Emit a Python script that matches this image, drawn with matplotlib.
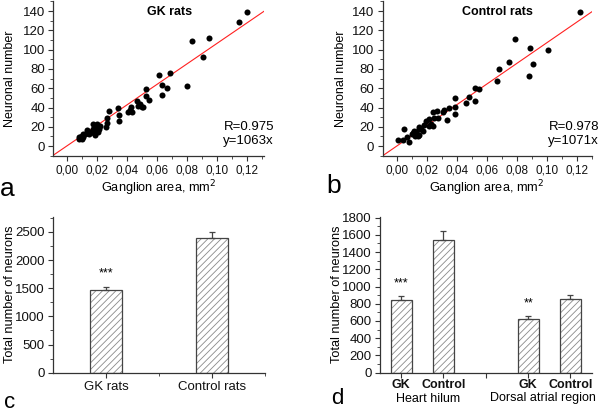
import matplotlib
matplotlib.use("Agg")
import matplotlib.pyplot as plt
from matplotlib.ticker import MultipleLocator, FuncFormatter, FixedLocator
import numpy as np

plt.rcParams['font.family'] = ['Liberation Sans', 'DejaVu Sans']
plt.rcParams['hatch.linewidth'] = 0.6

# ---- Data ----
gk_area = [0.120, 0.1147, 0.0951, 0.0838, 0.0909, 0.080, 0.0689, 0.0618, 0.0638, 0.0667,
           0.0638, 0.0527, 0.0527, 0.0547, 0.0467, 0.0489, 0.050, 0.0511, 0.0478, 0.0427,
           0.0422, 0.0438, 0.0407, 0.0344, 0.0347, 0.0347, 0.0284, 0.0271, 0.0267, 0.0262,
           0.020, 0.020, 0.0207, 0.0211, 0.0191, 0.0178, 0.0173, 0.016, 0.0151, 0.0133,
           0.0122, 0.0111, 0.0138, 0.0184, 0.0193, 0.0218, 0.0222, 0.010, 0.0089, 0.0111,
           0.010, 0.0084, 0.0082]
gk_neurons = [139, 129, 112, 109, 92, 62, 76, 74, 63, 60,
              53, 59, 52, 48, 47, 44, 41, 41, 42, 41,
              37, 35, 35, 39, 32, 26, 36, 29, 24, 20,
              23, 20, 17, 15, 11, 23, 18, 15, 13, 14,
              13, 12, 17, 14, 16, 18, 21, 10, 9, 9,
              7, 7, 9]
ctrl_area = [0.122, 0.0791, 0.0891, 0.1009, 0.0911, 0.0751, 0.0881, 0.0680, 0.0671, 0.0546,
             0.0520, 0.0520, 0.0482, 0.0462, 0.0390, 0.0390, 0.0390, 0.0350, 0.0332, 0.0317,
             0.0306, 0.0268, 0.0239, 0.0272, 0.0250, 0.0212, 0.0212, 0.0239, 0.0228, 0.0194,
             0.0183, 0.0161, 0.0146, 0.0150, 0.0128, 0.0117, 0.0106, 0.0099, 0.0124, 0.0139,
             0.0150, 0.0172, 0.0050, 0.0071, 0.0039, 0.0006, 0.0079]
ctrl_neurons = [139, 111, 102, 100, 85, 87, 73, 80, 68, 59,
                60, 47, 51, 45, 50, 41, 33, 40, 27, 37,
                35, 36, 35, 29, 29, 28, 21, 21, 23, 26,
                22, 18, 20, 18, 15, 16, 14, 12, 10, 10,
                11, 16, 18, 9, 6, 6, 4]
gk_slope = 1063
ctrl_slope = 1071
gk_r = "R=0.975"
ctrl_r = "R=0.978"

total_labels = ["GK rats", "Control rats"]
total_means = [1465, 2395]
total_errs = [60, 105]

region_labels = ["GK", "Control", "GK", "Control"]
region_groups = ["Heart hilum", "Dorsal atrial region"]
region_means = [840, 1545, 628, 850]
region_errs = [50, 102, 32, 57]

BLACK = "#111111"
SPINE = "#333333"
FS = 9.5

fig = plt.figure(figsize=(6.0, 4.13), dpi=100)

comma_fmt = FuncFormatter(lambda v, p: f"{v:.2f}".replace('.', ','))

def style_axes(ax):
    for s in ('top', 'right'):
        ax.spines[s].set_visible(False)
    for s in ('left', 'bottom'):
        ax.spines[s].set_color(SPINE)
        ax.spines[s].set_linewidth(0.9)
    ax.tick_params(which='both', direction='out', colors=SPINE, labelcolor=BLACK,
                   labelsize=FS)
    ax.tick_params(which='major', length=3.5, width=0.8, pad=2.5)
    ax.tick_params(which='minor', length=2, width=0.6)

def scatter_panel(pos, xs, ys, slope, rtxt, title, letter, xlim, rtext_x, letter_xy, ylx):
    ax = fig.add_axes(pos)
    style_axes(ax)
    ax.scatter(xs, ys, s=19, color='black', zorder=3, linewidths=0)
    xl = np.array(xlim)
    ax.plot(xl, slope * xl, color='#ff2020', lw=0.8, zorder=2)
    ax.set_xlim(*xlim)
    ax.set_ylim(-10, 150.5)
    ax.xaxis.set_major_locator(FixedLocator([0, 0.02, 0.04, 0.06, 0.08, 0.10, 0.12]))
    ax.xaxis.set_minor_locator(FixedLocator([0.01, 0.03, 0.05, 0.07, 0.09, 0.11, 0.13]))
    ax.xaxis.set_major_formatter(comma_fmt)
    ax.tick_params(axis='x', labelsize=8.5)
    ax.yaxis.set_major_locator(FixedLocator(list(range(0, 141, 20))))
    ax.yaxis.set_minor_locator(FixedLocator(list(range(-10, 151, 10))))
    ax.set_xlabel("Ganglion area, mm$^2$", fontsize=9.2, labelpad=2)
    ax.set_ylabel("Neuronal number", fontsize=9)
    ax.yaxis.set_label_coords(ylx, 0.5)
    ax.text(0.55, 0.965, title, transform=ax.transAxes, ha='center', va='top',
            fontsize=9, fontweight='bold')
    fig.text(rtext_x, 1 - 127 / 413, rtxt, ha='right', va='center', fontsize=FS)
    fig.text(rtext_x, 1 - 141 / 413, f"y={slope}x", ha='right', va='center', fontsize=FS)
    fig.text(letter_xy[0], letter_xy[1], letter, ha='left', va='center', fontsize=19)
    return ax

scatter_panel([0.0889, 0.623, 0.351, 0.3746], gk_area, gk_neurons, gk_slope, gk_r,
              "GK rats", "a", (-0.0089, 0.1315), 274 / 600, (0.0, 1 - 189 / 413), -0.175)
scatter_panel([0.6375, 0.623, 0.3487, 0.3746], ctrl_area, ctrl_neurons, ctrl_slope, ctrl_r,
              "Control rats", "b", (-0.0095, 0.130), 599 / 600, (326 / 600, 1 - 186 / 413),
              -0.168)

def hatched_bars(ax, x, h, w):
    ax.bar(x, h, width=w, color='white', edgecolor='#8a8a8a', hatch='/////',
           linewidth=0, zorder=2)
    ax.bar(x, h, width=w, color='none', edgecolor='#444444', linewidth=0.9, zorder=3)

# ---- Panel c ----
axc = fig.add_axes([0.0889, 0.0976, 0.3528, 0.3777])
style_axes(axc)
xc = [1, 2]
hatched_bars(axc, xc, total_means, 0.3)
axc.errorbar(xc, total_means, yerr=[[0, 0], total_errs], fmt='none', ecolor='#444444',
             elinewidth=0.9, capsize=2.5, capthick=0.9, zorder=4)
axc.set_xlim(0.5, 2.5)
axc.set_ylim(0, 2770)
axc.set_xticks(xc)
axc.set_xticklabels(total_labels, fontsize=FS)
axc.xaxis.set_minor_locator(FixedLocator([1.5, 2.5]))
axc.yaxis.set_major_locator(MultipleLocator(500))
axc.yaxis.set_minor_locator(MultipleLocator(250))
axc.set_ylabel("Total number of neurons", fontsize=9.2)
axc.yaxis.set_label_coords(-0.178, 0.5)
axc.text(xc[0], total_means[0] + total_errs[0] + 130, "***", ha='center', va='bottom',
         fontsize=9)
fig.text(0.006, 1 - 403 / 413, "c", ha='left', va='center', fontsize=16)

# ---- Panel d ----
axd = fig.add_axes([0.6333, 0.0976, 0.3528, 0.3777])
style_axes(axd)
xd = [1, 2, 4, 5]
hatched_bars(axd, xd, region_means, 0.5)
axd.errorbar(xd, region_means, yerr=[[0] * 4, region_errs], fmt='none', ecolor='#444444',
             elinewidth=0.9, capsize=2.5, capthick=0.9, zorder=4)
axd.set_xlim(0.5, 5.5)
axd.set_ylim(0, 1810)
axd.set_xticks([1, 2, 3, 4, 5])
axd.set_xticklabels([region_labels[0], region_labels[1], "", region_labels[2],
                     region_labels[3]], fontsize=9, fontweight='bold')
axd.tick_params(axis='x', which='major', pad=1)
axd.yaxis.set_major_locator(MultipleLocator(200))
axd.yaxis.set_minor_locator(MultipleLocator(100))
axd.set_ylabel("Total number of neurons", fontsize=9.2)
axd.yaxis.set_label_coords(-0.175, 0.5)
axd.text(xd[0], region_means[0] + region_errs[0] + 80, "***", ha='center', va='bottom',
         fontsize=9)
axd.text(xd[2], region_means[2] + region_errs[2] + 70, "**", ha='center', va='bottom',
         fontsize=9)
fig.text(428 / 600, 1 - 398.5 / 413, region_groups[0], ha='center', va='center', fontsize=9)
fig.text(543 / 600, 1 - 398.5 / 413, region_groups[1], ha='center', va='center', fontsize=9)
fig.text(331 / 600, 1 - 399 / 413, "d", ha='left', va='center', fontsize=16)

fig.savefig("out.png", dpi=100)
